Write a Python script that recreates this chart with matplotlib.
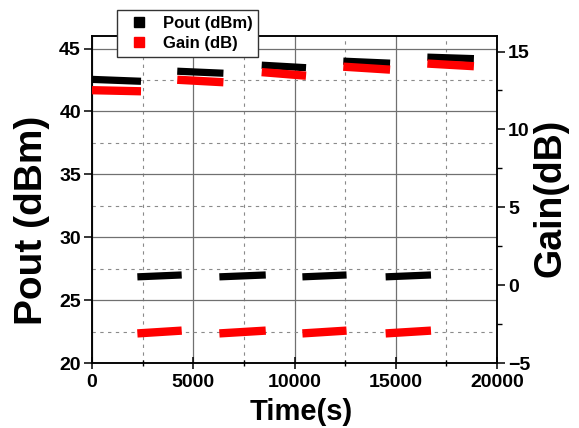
import matplotlib
matplotlib.use("Agg")
import matplotlib.pyplot as plt
from matplotlib.lines import Line2D
from matplotlib.ticker import MultipleLocator

plt.rcParams['font.family'] = ['Liberation Sans', 'DejaVu Sans']
plt.rcParams['font.weight'] = 'bold'

# ---- data ----
# "on" periods (high power)
on_start = [0, 4210, 8380, 12410, 16560]
on_end = [2420, 6490, 10570, 14720, 18860]
pout_on_start = [42.55, 43.2, 43.68, 44.0, 44.32]
pout_on_end = [42.4, 43.04, 43.48, 43.84, 44.2]
gain_on_start = [12.52, 13.19, 13.68, 14.03, 14.23]
gain_on_end = [12.45, 13.03, 13.45, 13.84, 14.06]
# "off" periods (low power)
off_start = [2240, 6290, 10390, 14500]
off_end = [4430, 8580, 12570, 16740]
pout_off_start = [26.85, 26.85, 26.85, 26.85]
pout_off_end = [27.0, 27.0, 27.0, 27.0]
gain_off_start = [-3.1, -3.1, -3.1, -3.1]
gain_off_end = [-2.92, -2.92, -2.92, -2.92]

W, H = 579, 428
fig = plt.figure(figsize=(W / 100, H / 100), dpi=100)
ax = fig.add_axes([92 / W, 1 - 363 / H, (497 - 92) / W, (363 - 36) / H])
ax2 = ax.twinx()

lw = 5.2
for s, e, a, b in zip(on_start, on_end, pout_on_start, pout_on_end):
    ax.plot([s, e], [a, b], color='black', lw=lw, solid_capstyle='butt', zorder=3)
for s, e, a, b in zip(off_start, off_end, pout_off_start, pout_off_end):
    ax.plot([s, e], [a, b], color='black', lw=lw, solid_capstyle='butt', zorder=3)
for s, e, a, b in zip(on_start, on_end, gain_on_start, gain_on_end):
    ax2.plot([s, e], [a, b], color='#ff0000', lw=lw + 0.8, solid_capstyle='butt', zorder=3)
for s, e, a, b in zip(off_start, off_end, gain_off_start, gain_off_end):
    ax2.plot([s, e], [a, b], color='#ff0000', lw=lw + 0.8, solid_capstyle='butt', zorder=3)

ax.set_xlim(0, 20000)
ax.set_ylim(20, 46)
ax2.set_ylim(-5, 16)

ax.xaxis.set_major_locator(MultipleLocator(5000))
ax.xaxis.set_minor_locator(MultipleLocator(2500))
ax.yaxis.set_major_locator(MultipleLocator(5))
ax.yaxis.set_minor_locator(MultipleLocator(2.5))
ax2.yaxis.set_major_locator(MultipleLocator(5))
ax2.yaxis.set_minor_locator(MultipleLocator(2.5))

ax.grid(True, which='major', color='#707070', lw=0.9, ls='-')
ax.grid(True, which='minor', color='#8a8a8a', lw=0.8, ls=(0, (3, 4)))
ax.set_axisbelow(True)

for a in (ax, ax2):
    for sp in a.spines.values():
        sp.set_linewidth(1.1)

ts = 14
ax.tick_params(axis='y', which='major', direction='out', length=6, width=1.1,
               labelsize=ts, pad=2)
ax.tick_params(axis='y', which='minor', length=0)
ax.tick_params(axis='x', which='major', direction='inout', length=8, width=1.1,
               labelsize=ts, pad=4)
ax.tick_params(axis='x', which='minor', direction='inout', length=4, width=1.0)
ax2.tick_params(axis='y', which='major', direction='out', length=6, width=1.1,
                labelsize=ts, pad=2)
ax2.tick_params(axis='y', which='minor', direction='out', length=3.5, width=1.0)

for lab in ax.get_xticklabels() + ax.get_yticklabels() + ax2.get_yticklabels():
    lab.set_fontweight('bold')

ax.set_xlabel('Time(s)', fontsize=21, fontweight='bold')
ax.set_ylabel('Pout (dBm)', fontsize=28, fontweight='bold')
ax2.set_ylabel('Gain(dB)', fontsize=27, fontweight='bold')
ax.xaxis.set_label_coords((301 - 92) / 405, (363 - 398) / 327)
ax.yaxis.set_label_coords((50 - 92) / 405, (363 - 220) / 327)
ax2.yaxis.set_label_coords((533 - 92) / 405, (363 - 198) / 327)

handles = [Line2D([], [], ls='none', marker='s', ms=6.5, color='black'),
           Line2D([], [], ls='none', marker='s', ms=6.5, color='#ff0000')]
leg = fig.legend(handles, ['Pout (dBm)', 'Gain (dB)'], loc='upper left',
                 bbox_to_anchor=(117 / W, 1 - 10 / H), borderaxespad=0,
                 prop={'size': 12, 'weight': 'bold'}, frameon=True,
                 fancybox=False, edgecolor='#333333', framealpha=1,
                 handletextpad=0.48, borderpad=0.35, labelspacing=0.3,
                 handlelength=1.92)
leg.get_frame().set_linewidth(1.0)

fig.savefig('out.png', dpi=100)
